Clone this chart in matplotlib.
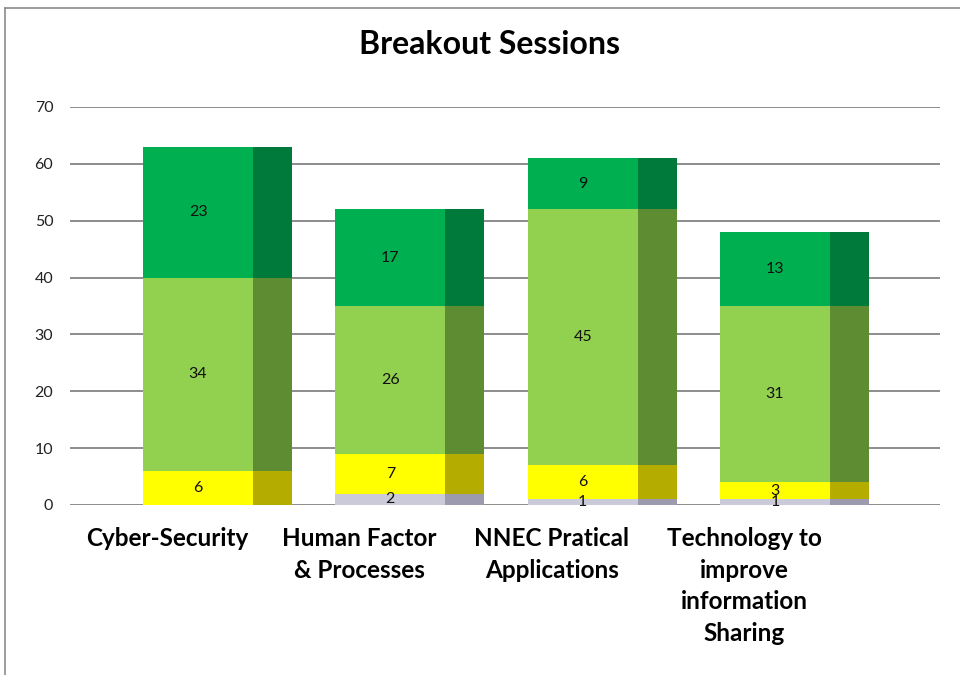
import matplotlib
matplotlib.use("Agg")
import matplotlib.pyplot as plt
from matplotlib.lines import Line2D
import numpy as np

plt.rcParams['font.family'] = ['Lato', 'DejaVu Sans']

categories = ["Cyber-Security", "Human Factor\n& Processes", "NNEC Pratical\nApplications",
              "Technology to\nimprove\ninformation\nSharing"]
grey_vals = [0, 2, 1, 1]
yellow_vals = [6, 7, 6, 3]
lightgreen_vals = [34, 26, 45, 31]
darkgreen_vals = [23, 17, 9, 13]

series = [grey_vals, yellow_vals, lightgreen_vals, darkgreen_vals]
front_colors = ["#CACAD8", "#FFFF00", "#92D050", "#00B050"]
side_colors = ["#9C9AAE", "#B5AC00", "#5E8C32", "#007A3A"]

fig = plt.figure(figsize=(9.6, 6.75), dpi=100)
ax = fig.add_axes([70/960, (675-505)/675, 870/960, (505-107)/675])

x = np.arange(len(categories))
front_w = 0.572
side_w = 0.203
bottom = np.zeros(len(categories))
for vals, fc, sc in zip(series, front_colors, side_colors):
    vals = np.array(vals, dtype=float)
    ax.bar(x, vals, bottom=bottom, width=front_w, color=fc, zorder=3, linewidth=0)
    ax.bar(x + front_w/2 + side_w/2, vals, bottom=bottom, width=side_w, color=sc, zorder=3, linewidth=0)
    for xi, v, b in zip(x, vals, bottom):
        if v > 0:
            ax.text(xi, b + v/2, f"{int(v)}", ha='center', va='center', fontsize=11.5,
                    color='#111111', zorder=5)
    bottom += vals

ax.set_xlim(-0.666, 3.858)
ax.set_ylim(0, 70)
ax.set_yticks(np.arange(0, 71, 10))
ax.yaxis.grid(True, color='#8C8C8C', linewidth=1.4, zorder=0)
ax.tick_params(axis='y', length=0, labelsize=11.5, pad=12, colors='#222222')
ax.set_xticks(x - 0.16)
ax.set_xticklabels(categories, fontsize=17.5, fontweight='bold', linespacing=1.45, va='top')
ax.tick_params(axis='x', length=0, pad=16)
for s in ax.spines.values():
    s.set_visible(False)

fig.text(490/960, 1 - 45/675, "Breakout Sessions", ha='center', va='center',
         fontsize=23, fontweight='bold')

# outer frame (top and left)
fig.add_artist(Line2D([5/960, 1], [1 - 8/675, 1 - 8/675], color='#8A8A8A', linewidth=1.2))
fig.add_artist(Line2D([5/960, 5/960], [0, 1 - 8/675], color='#8A8A8A', linewidth=1.2))

fig.savefig("out.png", dpi=100)
